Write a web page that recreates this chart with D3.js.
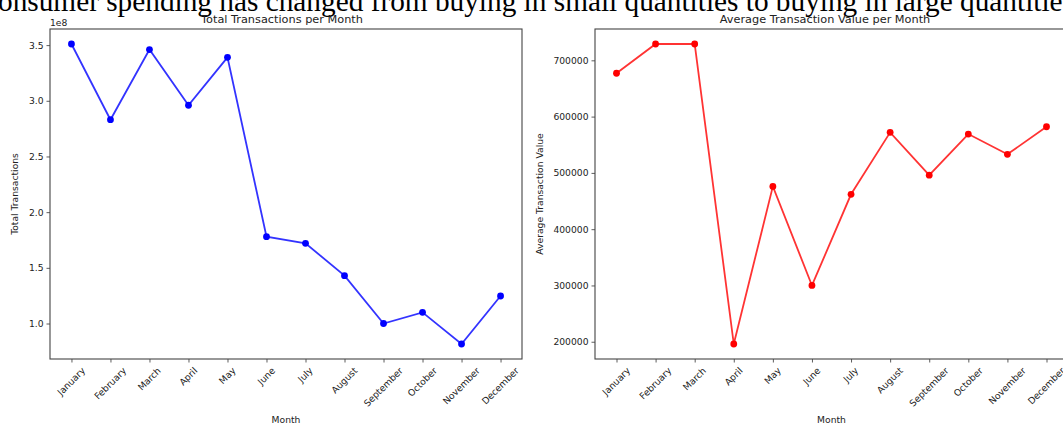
<!DOCTYPE html>
<html>
<head>
<meta charset="utf-8">
<script src="https://cdn.jsdelivr.net/npm/d3@7"></script>
<style>
  body { margin: 0; background: #fff; }
  svg { display: block; }
  text { font-family: "DejaVu Sans", sans-serif; fill: #222; }
</style>
</head>
<body>
<div id="chart"></div>
<script>
const months = ["January", "February", "March", "April", "May", "June",
                "July", "August", "September", "October", "November", "December"];
const totalTransactions = [3.51e8, 2.83e8, 3.46e8, 2.96e8, 3.39e8, 1.78e8,
                           1.72e8, 1.43e8, 1.00e8, 1.10e8, 0.816e8, 1.247e8];
const avgTransactionValue = [677000, 729000, 729000, 196000, 476000, 300000,
                             462000, 572000, 496000, 569000, 533000, 582000];
const leftTicks = [1.0e8, 1.5e8, 2.0e8, 2.5e8, 3.0e8, 3.5e8];
const rightTicks = [200000, 300000, 400000, 500000, 600000, 700000];
const sentence = "consumer spending has changed from buying in small quantities to buying in large quantities";

const W = 1063, H = 426;
const svg = d3.select("#chart").append("svg")
    .attr("width", W)
    .attr("height", H);

// cropped caption line from the surrounding document
svg.append("text")
    .attr("x", -15)
    .attr("y", 11)
    .style("font-family", "'Liberation Serif', 'Times New Roman', serif")
    .style("font-size", "29.3px")
    .style("fill", "#000")
    .text(sentence);

const plotTop = 29, plotBottom = 359;
const tickFont = "9.2px";

function drawPanel(opts) {
    const {left, right, values, ticks, fmt, color, title, ylabel, offsetText} = opts;

    const x = d3.scalePoint()
        .domain(months)
        .range([left, right])
        .padding(0.55);

    const ext = d3.extent(values);
    const pad = (ext[1] - ext[0]) * 0.05;
    const y = d3.scaleLinear()
        .domain([ext[0] - pad, ext[1] + pad])
        .range([plotBottom, plotTop]);

    const g = svg.append("g");

    // y axis
    const yAxis = g.append("g")
        .attr("transform", `translate(${left},0)`)
        .call(d3.axisLeft(y).tickValues(ticks).tickFormat(fmt).tickSize(3.5).tickPadding(3));
    yAxis.select(".domain").remove();
    yAxis.selectAll("line").attr("stroke", "#333").attr("stroke-width", 0.8);
    yAxis.selectAll("text").style("font-size", tickFont).style("font-family", "DejaVu Sans").attr("fill", "#222");

    // x axis
    const xAxis = g.append("g")
        .attr("transform", `translate(0,${plotBottom})`)
        .call(d3.axisBottom(x).tickSize(3.5).tickFormat(""));
    xAxis.select(".domain").remove();
    xAxis.selectAll("line").attr("stroke", "#333").attr("stroke-width", 0.8);

    // rotated month labels, centred under each tick like matplotlib rotation=45
    months.forEach(m => {
        const t = g.append("text")
            .style("font-size", tickFont)
            .attr("text-anchor", "middle")
            .attr("dy", "0.32em")
            .text(m);
        const w = t.node().getComputedTextLength();
        const half = (w + 9) * Math.SQRT1_2 / 2;
        const cx = x(m), cy = plotBottom + 3.5 + 3.5 + half;
        t.attr("x", cx).attr("y", cy)
         .attr("transform", `rotate(-45,${cx},${cy})`);
    });

    // frame
    g.append("rect")
        .attr("x", left).attr("y", plotTop)
        .attr("width", right - left).attr("height", plotBottom - plotTop)
        .attr("fill", "none")
        .attr("stroke", "#444")
        .attr("stroke-width", 1.1);

    // line + markers
    const line = d3.line()
        .x((d, i) => x(months[i]))
        .y(d => y(d));
    g.append("path")
        .datum(values)
        .attr("d", line)
        .attr("fill", "none")
        .attr("stroke", color)
        .attr("stroke-width", 1.8)
        .attr("opacity", 0.8);
    g.selectAll(".dot")
        .data(values)
        .enter()
        .append("circle")
        .attr("cx", (d, i) => x(months[i]))
        .attr("cy", d => y(d))
        .attr("r", 3.4)
        .attr("fill", color);

    // texts
    g.append("text")
        .attr("x", opts.titleX)
        .attr("y", 23)
        .attr("text-anchor", "middle")
        .style("font-size", "11.3px")
        .text(title);
    g.append("text")
        .attr("x", (left + right) / 2)
        .attr("y", 423)
        .attr("text-anchor", "middle")
        .style("font-size", tickFont)
        .text("Month");
    const lx = opts.ylabelX, ly = (plotTop + plotBottom) / 2;
    g.append("text")
        .attr("x", lx).attr("y", ly)
        .attr("text-anchor", "middle")
        .attr("transform", `rotate(-90,${lx},${ly})`)
        .style("font-size", tickFont)
        .text(ylabel);
    if (offsetText) {
        g.append("text")
            .attr("x", left)
            .attr("y", 26)
            .style("font-size", tickFont)
            .text(offsetText);
    }
}

drawPanel({
    left: 50, right: 522,
    values: totalTransactions,
    ticks: leftTicks,
    fmt: d => (d / 1e8).toFixed(1),
    color: "blue",
    title: "Total Transactions per Month",
    titleX: 282,
    ylabel: "Total Transactions",
    ylabelX: 18,
    offsetText: "1e8"
});

drawPanel({
    left: 595, right: 1068,
    values: avgTransactionValue,
    ticks: rightTicks,
    fmt: d => String(d),
    color: "red",
    title: "Average Transaction Value per Month",
    titleX: 825,
    ylabel: "Average Transaction Value",
    ylabelX: 543
});
</script>
</body>
</html>
